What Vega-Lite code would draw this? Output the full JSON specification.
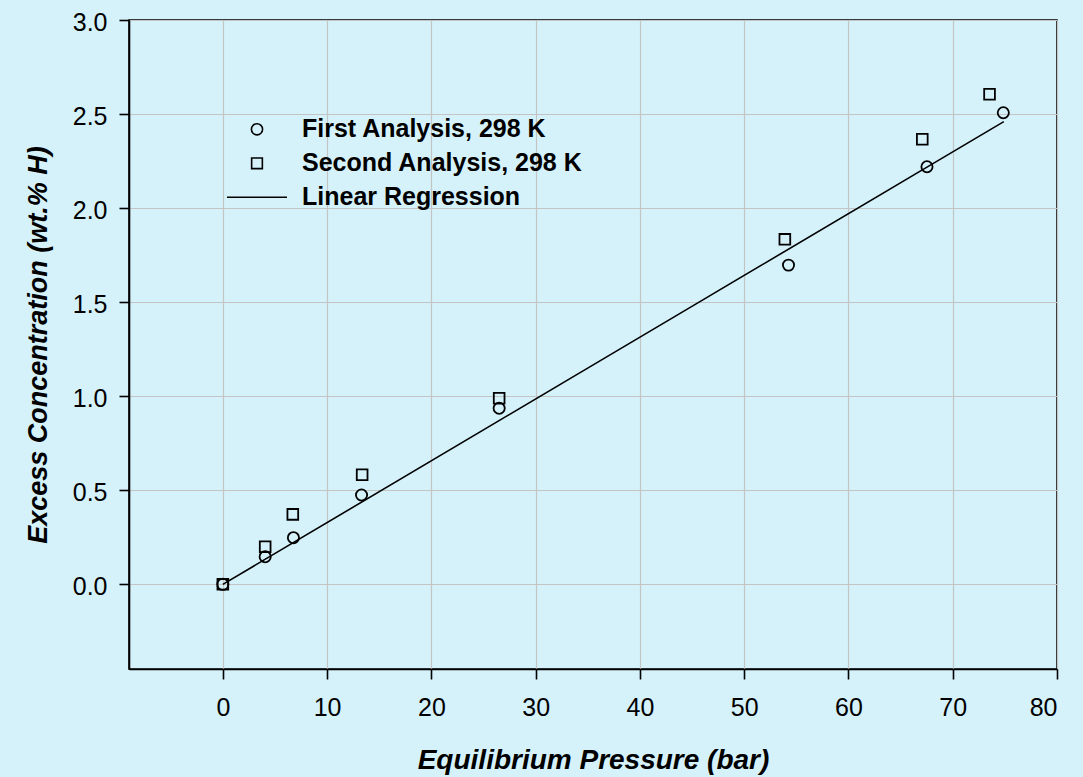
{
  "$schema": "https://vega.github.io/schema/vega-lite/v6.json",
  "width": 928,
  "height": 649,
  "autosize": {"type": "none"},
  "padding": {"left": 129, "top": 20, "right": 26, "bottom": 108},
  "background": "#d5f2fb",
  "datasets": {
    "pts": [
      {"pressure": 0, "conc": 0, "series": "First Analysis, 298 K"},
      {"pressure": 4.06, "conc": 0.147, "series": "First Analysis, 298 K"},
      {"pressure": 6.77, "conc": 0.248, "series": "First Analysis, 298 K"},
      {"pressure": 13.3, "conc": 0.475, "series": "First Analysis, 298 K"},
      {"pressure": 26.5, "conc": 0.936, "series": "First Analysis, 298 K"},
      {"pressure": 54.25, "conc": 1.697, "series": "First Analysis, 298 K"},
      {"pressure": 67.53, "conc": 2.22, "series": "First Analysis, 298 K"},
      {"pressure": 74.85, "conc": 2.507, "series": "First Analysis, 298 K"},
      {"pressure": 0, "conc": 0, "series": "Second Analysis, 298 K"},
      {"pressure": 4.06, "conc": 0.2, "series": "Second Analysis, 298 K"},
      {"pressure": 6.71, "conc": 0.372, "series": "Second Analysis, 298 K"},
      {"pressure": 13.36, "conc": 0.583, "series": "Second Analysis, 298 K"},
      {"pressure": 26.5, "conc": 0.989, "series": "Second Analysis, 298 K"},
      {"pressure": 53.9, "conc": 1.834, "series": "Second Analysis, 298 K"},
      {"pressure": 67.08, "conc": 2.366, "series": "Second Analysis, 298 K"},
      {"pressure": 73.53, "conc": 2.605, "series": "Second Analysis, 298 K"}
    ],
    "reg": [
      {"pressure": 0, "conc": 0.0},
      {"pressure": 74.9, "conc": 2.46}
    ]
  },
  "encoding": {
    "x": {
      "field": "pressure", "type": "quantitative",
      "scale": {"domain": [-9, 80], "nice": false, "zero": false},
      "axis": {
        "title": "Equilibrium Pressure (bar)",
        "values": [0, 10, 20, 30, 40, 50, 60, 70, 80],
        "labelPadding": 16,
        "titleFontSize": 28,
        "titleX": 464, "titleY": 77.5, "titleBaseline": "top", "titleAlign": "center"
      }
    },
    "y": {
      "field": "conc", "type": "quantitative",
      "scale": {"domain": [-0.45, 3.0], "nice": false, "zero": false},
      "axis": {
        "title": "Excess Concentration (wt.% H)",
        "values": [0, 0.5, 1.0, 1.5, 2.0, 2.5, 3.0],
        "format": ".1f",
        "labelPadding": 12,
        "labelOffset": 2.5,
        "titleFontSize": 27,
        "titleX": -76.3, "titleY": 324.5, "titleBaseline": "bottom", "titleAlign": "center", "titleAngle": 270
      }
    }
  },
  "layer": [
    {
      "data": {"name": "reg"},
      "mark": {"type": "line", "color": "black", "strokeWidth": 1.6}
    },
    {
      "data": {"name": "pts"},
      "mark": {"type": "point", "filled": false, "stroke": "black", "strokeWidth": 1.8, "opacity": 1},
      "encoding": {
        "shape": {
          "field": "series", "type": "nominal",
          "scale": {"domain": ["First Analysis, 298 K", "Second Analysis, 298 K", "Linear Regression"], "range": ["circle", "square", "stroke"]},
          "legend": {"title": null}
        },
        "size": {
          "field": "series", "type": "nominal",
          "scale": {"type": "ordinal", "domain": ["First Analysis, 298 K", "Second Analysis, 298 K", "Linear Regression"], "range": [125, 115, 3600]},
          "legend": {"title": null}
        }
      }
    }
  ],
  "config": {
    "view": {"stroke": "black", "strokeWidth": 1.6},
    "axis": {
      "domainColor": "black", "domainWidth": 1.6,
      "tickColor": "black", "tickWidth": 1.6, "tickSize": 10,
      "gridColor": "#c4c4c4", "gridWidth": 1.2,
      "labelFont": "Liberation Sans", "labelFontSize": 25, "labelColor": "black",
      "titleFont": "Liberation Sans", "titleFontSize": 27, "titleFontWeight": "bold", "titleFontStyle": "italic", "titleColor": "black"
    },
    "legend": {
      "orient": "none", "legendX": 97, "legendY": 96.8, "padding": 0,
      "labelFont": "Liberation Sans", "labelFontSize": 25, "labelFontWeight": "bold", "labelColor": "black",
      "labelLimit": 0,
      "labelOffset": 14, "symbolStrokeWidth": 1.6, "symbolStrokeColor": "black", "symbolFillColor": "transparent",
      "clipHeight": 25, "rowPadding": 8
    }
  }
}
